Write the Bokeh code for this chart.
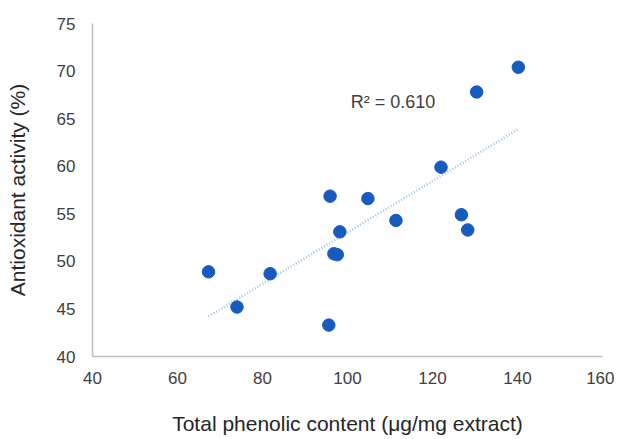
import numpy as np
from bokeh.plotting import figure
from bokeh.models import Range1d, FixedTicker, ColumnDataSource, Label
from bokeh.embed import file_html
from bokeh.resources import INLINE

# Data
phenolic = [67.3, 74.0, 81.8, 95.6, 95.9, 96.8, 97.6, 98.2, 104.8, 111.4, 122.0, 126.8, 128.3, 130.4, 140.2]
activity = [48.9, 45.2, 48.7, 43.3, 56.85, 50.8, 50.7, 53.1, 56.6, 54.3, 59.9, 54.9, 53.3, 67.8, 70.4]
x_ticks = [40, 60, 80, 100, 120, 140, 160]
y_ticks = [40, 45, 50, 55, 60, 65, 70, 75]
r2_text = "R² = 0.610"

FONT = "Liberation Sans"

p = figure(width=614, height=439, output_backend="svg", toolbar_location=None,
           x_range=Range1d(40, 160), y_range=Range1d(40, 75),
           min_border_left=92, min_border_right=12, min_border_top=23, min_border_bottom=83)
p.outline_line_color = None
p.xgrid.grid_line_color = None
p.ygrid.grid_line_color = None

# trendline (least squares on the data)
xs = np.array(phenolic)
ys = np.array(activity)
m, b = np.polyfit(xs, ys, 1)
tx = [float(xs.min()), float(xs.max())]
ty = [m * tx[0] + b, m * tx[1] + b]
p.line(tx, ty, line_color="#9DC3E6", line_width=2.5, line_dash="1 2")

src = ColumnDataSource(dict(x=phenolic, y=activity))
p.scatter("x", "y", source=src, size=12.5, fill_color="#175BBF", line_color="#175BBF")

p.add_layout(Label(x=110.7, y=66.7, text=r2_text, text_align="center", text_baseline="middle",
                   text_font=FONT, text_font_size="18px", text_color="#404040"))

for ax in (p.xaxis[0], p.yaxis[0]):
    ax.axis_line_color = "#BFBFBF"
    ax.axis_line_width = 1.5
    ax.major_tick_line_color = None
    ax.minor_tick_line_color = None
    ax.major_tick_out = 0
    ax.major_tick_in = 0
    ax.minor_tick_out = 0
    ax.major_label_text_font = FONT
    ax.major_label_text_font_size = "17px"
    ax.major_label_text_color = "#404040"
    ax.axis_label_text_font = FONT
    ax.axis_label_text_font_size = "21px"
    ax.axis_label_text_font_style = "normal"
    ax.axis_label_text_color = "#262626"

p.xaxis.ticker = FixedTicker(ticks=x_ticks)
p.yaxis.ticker = FixedTicker(ticks=y_ticks)
p.xaxis.axis_label = "Total phenolic content (μg/mg extract)"
p.yaxis.axis_label = "Antioxidant activity (%)"
p.xaxis.major_label_standoff = 15
p.xaxis.axis_label_standoff = 25
p.yaxis.major_label_standoff = 17
p.yaxis.axis_label_standoff = 25

open("out.html", "w").write(file_html(p, INLINE))
